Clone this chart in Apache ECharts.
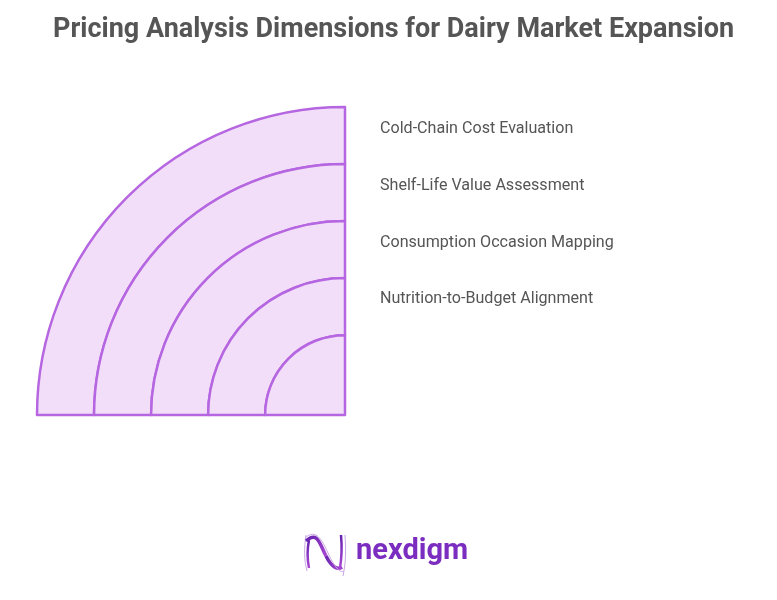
<!DOCTYPE html>
<html>
<head>
<meta charset="utf-8">
<script src="https://cdn.jsdelivr.net/npm/echarts@6/dist/echarts.min.js"></script>
<style>html,body{margin:0;padding:0;background:#fff;}#c{width:777px;height:600px;}</style>
</head>
<body>
<div id="c"></div>
<script>
var titleText = 'Pricing Analysis Dimensions for Dairy Market Expansion';
var dimensionLabels = ['Cold-Chain Cost Evaluation', 'Shelf-Life Value Assessment', 'Consumption Occasion Mapping', 'Nutrition-to-Budget Alignment'];
var ringWeights = [1.4, 1, 1, 1, 1]; // innermost to outermost band widths (relative)
var brand = 'nexdigm';

var chart = echarts.init(document.getElementById('c'), null, {renderer: 'canvas'});
var cx = 345, cy = 415, R = 308;
var total = ringWeights.reduce(function (a, b) { return a + b; }, 0);
var series = [];
var acc = 0;
ringWeights.forEach(function (w, i) {
  var inner = acc / total * R;
  acc += w;
  var outer = acc / total * R;
  series.push({
    type: 'pie',
    silent: true,
    center: [cx, cy],
    radius: [inner, outer],
    startAngle: 90,
    clockwise: false,
    label: {show: false},
    labelLine: {show: false},
    animation: false,
    z: 10 - i,
    data: [
      {value: 1, itemStyle: {color: '#F2DEF9', borderColor: '#B566E0', borderWidth: 2.5}},
      {value: 3, itemStyle: {color: 'rgba(0,0,0,0)', borderWidth: 0}}
    ]
  });
});

function grad(x0, y0, x1, y1, c0, c1) {
  return {type: 'linear', x: x0, y: y0, x2: x1, y2: y1, colorStops: [{offset: 0, color: c0}, {offset: 1, color: c1}]};
}
var graphics = [];
var labelY = [129, 186, 243, 299];
dimensionLabels.forEach(function (t, i) {
  graphics.push({
    type: 'text', x: 380, y: labelY[i],
    style: {text: t, fill: '#555555', font: '16.1px Roboto', verticalAlign: 'middle'}
  });
});
// logo text
graphics.push({
  type: 'text', x: 356, y: 552,
  style: {text: brand, font: 'bold 29px Roboto', verticalAlign: 'middle', fill: '#7B2DC0'}
});
// logo icon
var icoGrad = grad(0, 0, 1, 1, '#5E1FAA', '#B04CD8');
function bz(x1, y1, c1x, c1y, c2x, c2y, x2, y2, stroke, w) {
  graphics.push({type: 'bezierCurve', shape: {x1: x1, y1: y1, cpx1: c1x, cpy1: c1y, cpx2: c2x, cpy2: c2y, x2: x2, y2: y2}, style: {stroke: stroke, lineWidth: w, fill: null}});
}
bz(306, 535, 304, 548, 304, 560, 307, 571, '#C9A6E4', 1);
bz(309, 540, 307, 550, 307, 558, 309, 568, icoGrad, 2.5);
bz(306, 541, 318, 530, 320, 545, 326, 556, icoGrad, 3.5);
bz(326, 556, 332, 568, 338, 570, 342, 567, icoGrad, 3.5);
bz(305, 538, 316, 528, 322, 540, 328, 553, '#C9A6E4', 1);
bz(328, 553, 334, 566, 340, 574, 344, 571, '#C9A6E4', 1);
bz(341, 535, 342, 546, 342, 556, 340, 568, icoGrad, 2.5);
bz(345, 535, 346, 550, 346, 562, 343, 576, '#C9A6E4', 1);

chart.setOption({
  backgroundColor: '#ffffff',
  animation: false,
  title: {
    text: titleText, left: 48, top: 12,
    textStyle: {color: '#555555', fontSize: 27, fontWeight: 'bold', fontFamily: 'Roboto'}
  },
  series: series,
  graphic: graphics
});
</script>
</body>
</html>
